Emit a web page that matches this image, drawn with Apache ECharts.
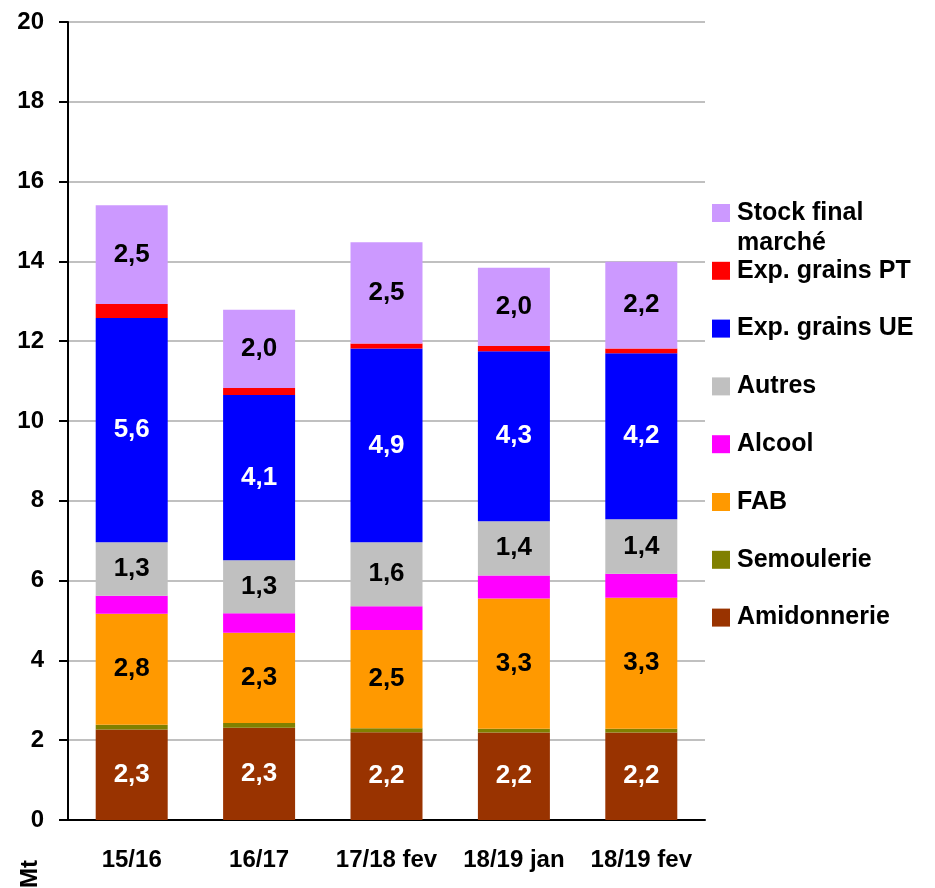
<!DOCTYPE html>
<html>
<head>
<meta charset="utf-8">
<script src="https://cdn.jsdelivr.net/npm/echarts@6/dist/echarts.min.js"></script>
<style>
html,body{margin:0;padding:0;background:#fff;}
#c{width:935px;height:888px;}
</style>
</head>
<body>
<div id="c"></div>
<script>
const categories = ['15/16', '16/17', '17/18 fev', '18/19 jan', '18/19 fev'];
const amidonnerie = [2.27, 2.31, 2.2, 2.19, 2.19];
const semoulerie = [0.12, 0.12, 0.1, 0.1, 0.1];
const fab = [2.78, 2.26, 2.46, 3.26, 3.28];
const alcool = [0.45, 0.49, 0.6, 0.58, 0.6];
const autres = [1.34, 1.33, 1.6, 1.36, 1.37];
const expUE = [5.62, 4.14, 4.86, 4.26, 4.16];
const expPT = [0.35, 0.18, 0.12, 0.13, 0.12];
const stockFinal = [2.48, 1.96, 2.54, 1.96, 2.17];
const yTicks = [0, 2, 4, 6, 8, 10, 12, 14, 16, 18, 20];

const FONT = '"Liberation Sans", Arial, sans-serif';

function mk(name, data, color, labelColor) {
  return {
    name: name,
    type: 'bar',
    stack: 'total',
    data: data,
    barWidth: 72,
    itemStyle: { color: color },
    label: labelColor ? {
      show: true,
      position: 'inside',
      color: labelColor,
      fontFamily: FONT,
      fontWeight: 'bold',
      fontSize: 26,
      formatter: p => p.value.toFixed(1).replace('.', ',')
    } : { show: false },
    emphasis: { disabled: true }
  };
}

const chart = echarts.init(document.getElementById('c'), null, { renderer: 'canvas' });
chart.setOption({
  animation: false,
  backgroundColor: '#ffffff',
  grid: { left: 68, right: 230, top: 22, bottom: 68 },
  legend: {
    orient: 'vertical',
    left: 712,
    top: 200,
    padding: 0,
    itemWidth: 18,
    itemHeight: 18,
    itemGap: 31.8,
    icon: 'rect',
    selectedMode: false,
    data: ['Stock final', 'Exp. grains PT', 'Exp. grains UE', 'Autres', 'Alcool', 'FAB', 'Semoulerie', 'Amidonnerie'],
    textStyle: { fontFamily: FONT, fontWeight: 'bold', fontSize: 25, color: '#000', lineHeight: 26, padding: [0, 0, 0, 2] }
  },
  graphic: [
    { type: 'text', left: 737, top: 231, style: { text: 'marché', fontFamily: FONT, fontWeight: 'bold', fontSize: 25, fill: '#000' } },
    { type: 'text', x: 42, y: 888, rotation: Math.PI / 2, style: { text: 'Mt', fontFamily: FONT, fontWeight: 'bold', fontSize: 24, fill: '#000', textVerticalAlign: 'bottom' } }
  ],
  xAxis: {
    type: 'category',
    data: categories,
    axisLine: { lineStyle: { color: '#000', width: 2 } },
    axisTick: { show: false },
    axisLabel: { interval: 0, hideOverlap: false, margin: 28, fontFamily: FONT, fontWeight: 'bold', fontSize: 24, color: '#000' }
  },
  yAxis: {
    type: 'value',
    min: yTicks[0],
    max: yTicks[yTicks.length - 1],
    interval: 2,
    axisLine: { show: true, lineStyle: { color: '#000', width: 2 } },
    axisTick: { show: true, length: 9, lineStyle: { color: '#000', width: 2 } },
    splitLine: { lineStyle: { color: '#c0c0c0', width: 2 } },
    axisLabel: { margin: 24, fontFamily: FONT, fontWeight: 'bold', fontSize: 24, color: '#000' }
  },
  series: [
    mk('Amidonnerie', amidonnerie, '#993300', '#ffffff'),
    mk('Semoulerie', semoulerie, '#808000', null),
    mk('FAB', fab, '#ff9900', '#000000'),
    mk('Alcool', alcool, '#ff00ff', null),
    mk('Autres', autres, '#c0c0c0', '#000000'),
    mk('Exp. grains UE', expUE, '#0000ff', '#ffffff'),
    mk('Exp. grains PT', expPT, '#ff0000', null),
    mk('Stock final', stockFinal, '#cc99ff', '#000000')
  ]
});
</script>
</body>
</html>
